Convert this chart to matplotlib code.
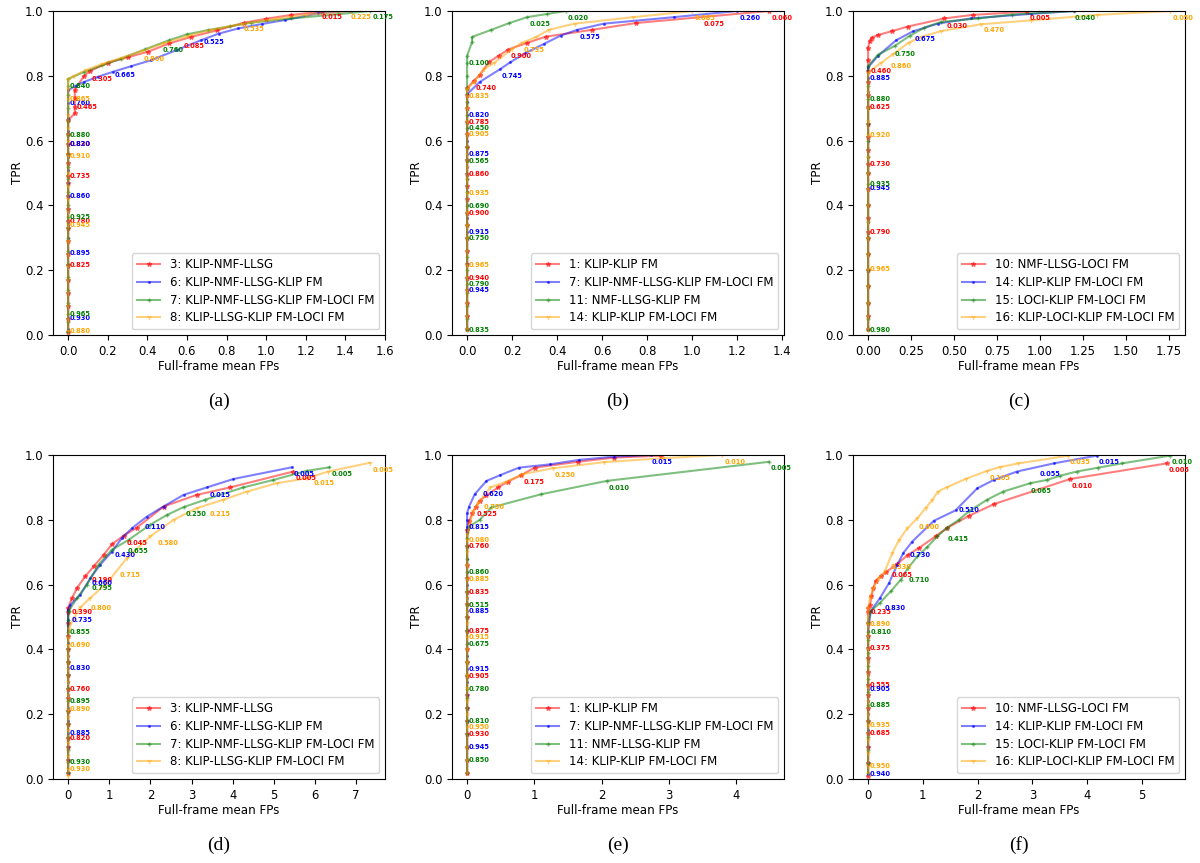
import matplotlib
matplotlib.use("Agg")
import matplotlib.pyplot as plt

# ---------------- data ----------------
# each series: vertical part (FP = 0) TPR values, then curve FP / TPR values, then threshold labels
# ---- panel (a)
a_names = ["3: KLIP-NMF-LLSG", "6: KLIP-NMF-LLSG-KLIP FM",
           "7: KLIP-NMF-LLSG-KLIP FM-LOCI FM", "8: KLIP-LLSG-KLIP FM-LOCI FM"]
a_red_v = [0.01, 0.05, 0.09, 0.13, 0.17, 0.215, 0.25, 0.29, 0.33, 0.353, 0.39, 0.43, 0.47, 0.49, 0.53, 0.56, 0.59, 0.62, 0.663]
a_red_fp = [0.034, 0.034, 0.034, 0.034, 0.081, 0.111, 0.2, 0.30, 0.402, 0.511, 0.621, 0.75, 0.89, 1.0, 1.128, 1.28]
a_red_tpr = [0.684, 0.704, 0.73, 0.757, 0.80, 0.815, 0.84, 0.857, 0.874, 0.9, 0.92, 0.94, 0.964, 0.976, 0.988, 0.998]
a_red_lab = [("0.015", 1.272, 0.98), ("0.085", 0.576, 0.892), ("0.305", 0.11, 0.79), ("0.465", 0.034, 0.704),
             ("0.830", 0, 0.59), ("0.735", 0, 0.49), ("0.780", 0, 0.353), ("0.825", 0, 0.215)]
a_blue_v = [0.02, 0.053, 0.09, 0.13, 0.17, 0.21, 0.253, 0.3, 0.34, 0.38, 0.428, 0.47, 0.51, 0.55, 0.59, 0.63, 0.67, 0.716, 0.755]
a_blue_fp = [0.04, 0.081, 0.15, 0.225, 0.32, 0.419, 0.55, 0.672, 0.76, 0.858, 0.98, 1.094, 1.263, 1.43]
a_blue_tpr = [0.77, 0.781, 0.797, 0.812, 0.83, 0.848, 0.88, 0.91, 0.93, 0.946, 0.96, 0.972, 0.993, 1.0]
a_blue_lab = [("0.525", 0.675, 0.905), ("0.665", 0.228, 0.803), ("0.760", 0, 0.716), ("0.820", 0, 0.59),
              ("0.860", 0, 0.428), ("0.895", 0, 0.253), ("0.930", 0, 0.053)]
a_green_v = [0.01, 0.04, 0.066, 0.1, 0.14, 0.18, 0.22, 0.26, 0.3, 0.33, 0.365, 0.4, 0.44, 0.48, 0.52, 0.56, 0.616, 0.66, 0.7, 0.74, 0.767, 0.79]
a_green_fp = [0.081, 0.17, 0.267, 0.39, 0.511, 0.6, 0.706, 0.82, 0.925, 1.128, 1.364, 1.524]
a_green_tpr = [0.812, 0.832, 0.853, 0.882, 0.91, 0.928, 0.941, 0.953, 0.964, 0.977, 0.99, 1.0]
a_green_lab = [("0.175", 1.533, 0.98), ("0.760", 0.469, 0.879), ("0.840", 0, 0.767), ("0.880", 0, 0.616),
               ("0.925", 0, 0.365), ("0.965", 0, 0.066)]
a_orange_v = [0.013, 0.05, 0.09, 0.13, 0.17, 0.21, 0.25, 0.29, 0.341, 0.38, 0.42, 0.46, 0.5, 0.553, 0.6, 0.64, 0.68, 0.729, 0.76, 0.79]
a_orange_fp = [0.03, 0.09, 0.17, 0.27, 0.372, 0.48, 0.6, 0.72, 0.88, 1.05, 1.2, 1.43]
a_orange_tpr = [0.80, 0.818, 0.836, 0.856, 0.876, 0.9, 0.922, 0.942, 0.96, 0.976, 0.988, 1.0]
a_orange_lab = [("0.225", 1.42, 0.98), ("0.535", 0.88, 0.943), ("0.800", 0.372, 0.853), ("0.865", 0, 0.729),
                ("0.910", 0, 0.553), ("0.945", 0, 0.341), ("0.880", 0, 0.013)]

# ---- panel (b)
b_names = ["1: KLIP-KLIP FM", "7: KLIP-NMF-LLSG-KLIP FM-LOCI FM",
           "11: NMF-LLSG-KLIP FM", "14: KLIP-KLIP FM-LOCI FM"]
b_red_v = [0.02, 0.06, 0.1, 0.14, 0.177, 0.22, 0.26, 0.3, 0.34, 0.378, 0.42, 0.46, 0.498, 0.54, 0.58, 0.62, 0.658, 0.7, 0.74, 0.761]
b_red_fp = [0.03, 0.056, 0.096, 0.14, 0.182, 0.267, 0.351, 0.556, 0.751, 1.34]
b_red_tpr = [0.785, 0.802, 0.842, 0.862, 0.881, 0.902, 0.921, 0.942, 0.963, 1.0]
b_red_lab = [("0.060", 1.345, 0.979), ("0.075", 1.044, 0.96), ("0.900", 0.185, 0.86), ("0.740", 0.03, 0.761),
             ("0.785", 0, 0.658), ("0.860", 0, 0.498), ("0.900", 0, 0.378), ("0.940", 0, 0.177)]
b_blue_v = [0.02, 0.06, 0.1, 0.138, 0.18, 0.22, 0.26, 0.3, 0.318, 0.36, 0.4, 0.44, 0.48, 0.52, 0.558, 0.6, 0.64, 0.679, 0.72, 0.743]
b_blue_fp = [0.056, 0.148, 0.192, 0.259, 0.34, 0.415, 0.489, 0.607, 0.918, 1.2]
b_blue_tpr = [0.781, 0.821, 0.842, 0.87, 0.898, 0.924, 0.942, 0.961, 0.981, 1.0]
b_blue_lab = [("0.260", 1.203, 0.979), ("0.575", 0.492, 0.919), ("0.745", 0.148, 0.798), ("0.820", 0, 0.679),
              ("0.875", 0, 0.558), ("0.915", 0, 0.318), ("0.945", 0, 0.138)]
b_green_v = [0.016, 0.05, 0.09, 0.13, 0.157, 0.2, 0.24, 0.298, 0.34, 0.398, 0.44, 0.48, 0.538, 0.58, 0.639, 0.68, 0.72, 0.76, 0.8, 0.839, 0.862]
b_green_fp = [0.022, 0.022, 0.104, 0.188, 0.267, 0.356, 0.437]
b_green_tpr = [0.904, 0.92, 0.941, 0.963, 0.981, 0.991, 1.0]
b_green_lab = [("0.020", 0.441, 0.979), ("0.025", 0.27, 0.96), ("0.100", 0, 0.839), ("0.450", 0, 0.639),
               ("0.565", 0, 0.538), ("0.690", 0, 0.398), ("0.750", 0, 0.298), ("0.790", 0, 0.157), ("0.835", 0, 0.016)]
b_orange_v = [0.02, 0.06, 0.1, 0.14, 0.18, 0.217, 0.26, 0.3, 0.34, 0.38, 0.438, 0.48, 0.52, 0.56, 0.619, 0.66, 0.7, 0.738, 0.76]
b_orange_fp = [0.03, 0.074, 0.118, 0.2, 0.244, 0.304, 0.363, 0.478, 0.738, 1.0]
b_orange_tpr = [0.781, 0.821, 0.839, 0.883, 0.902, 0.919, 0.942, 0.961, 0.981, 1.0]
b_orange_lab = [("0.885", 1.003, 0.979), ("0.735", 0.247, 0.88), ("0.835", 0, 0.738), ("0.905", 0, 0.619),
                ("0.935", 0, 0.438), ("0.965", 0, 0.217)]

# ---- panel (c)
c_names = ["10: NMF-LLSG-LOCI FM", "14: KLIP-KLIP FM-LOCI FM",
           "15: LOCI-KLIP FM-LOCI FM", "16: KLIP-LOCI-KLIP FM-LOCI FM"]
c_red_v = [0.02, 0.06, 0.1, 0.15, 0.2, 0.25, 0.3, 0.317, 0.36, 0.4, 0.45, 0.5, 0.529, 0.57, 0.61, 0.65, 0.704, 0.74, 0.78, 0.816, 0.85, 0.887]
c_red_fp = [0.01, 0.02, 0.058, 0.14, 0.231, 0.443, 0.608, 0.926]
c_red_tpr = [0.908, 0.918, 0.926, 0.938, 0.952, 0.977, 0.988, 0.998]
c_red_lab = [("0.005", 0.93, 0.979), ("0.030", 0.447, 0.954), ("0.460", 0.005, 0.816), ("0.625", 0, 0.704),
             ("0.730", 0, 0.529), ("0.790", 0, 0.317)]
c_blue_v = [0.02, 0.06, 0.1, 0.15, 0.2, 0.25, 0.3, 0.35, 0.4, 0.454, 0.5, 0.55, 0.6, 0.65, 0.7, 0.75, 0.792, 0.826]
c_blue_fp = [0.058, 0.164, 0.26, 0.405, 0.598, 0.945, 1.196]
c_blue_tpr = [0.862, 0.91, 0.937, 0.961, 0.977, 0.991, 1.0]
c_blue_lab = [("0.675", 0.264, 0.915), ("0.885", 0, 0.792), ("0.945", 0, 0.454)]
c_green_v = [0.016, 0.05, 0.1, 0.15, 0.2, 0.25, 0.3, 0.35, 0.4, 0.467, 0.5, 0.55, 0.6, 0.65, 0.7, 0.729, 0.77, 0.83]
c_green_fp = [0.058, 0.154, 0.241, 0.328, 0.424, 0.637, 0.839, 1.196]
c_green_tpr = [0.865, 0.892, 0.923, 0.949, 0.966, 0.977, 0.989, 1.0]
c_green_lab = [("0.040", 1.192, 0.979), ("0.750", 0.148, 0.867), ("0.880", 0, 0.729), ("0.935", 0, 0.467),
               ("0.980", 0, 0.016)]
c_orange_v = [0.02, 0.06, 0.1, 0.15, 0.204, 0.25, 0.3, 0.35, 0.4, 0.45, 0.5, 0.55, 0.616, 0.66, 0.7, 0.75, 0.81]
c_orange_fp = [0.077, 0.145, 0.235, 0.308, 0.424, 0.656, 0.945, 1.331, 1.755]
c_orange_tpr = [0.841, 0.867, 0.902, 0.92, 0.938, 0.959, 0.971, 0.988, 1.0]
c_orange_lab = [("0.050", 1.76, 0.979), ("0.470", 0.665, 0.942), ("0.860", 0.125, 0.829), ("0.920", 0, 0.616),
                ("0.965", 0, 0.204)]

# ---- panel (d)
d_names = a_names
d_red_v = [0.02, 0.06, 0.1, 0.128, 0.17, 0.21, 0.25, 0.278, 0.32, 0.36, 0.4, 0.44, 0.48, 0.516, 0.528]
d_red_fp = [0.097, 0.218, 0.42, 0.621, 0.864, 1.068, 1.35, 1.675, 2.32, 3.131, 3.939, 5.476]
d_red_tpr = [0.559, 0.59, 0.626, 0.656, 0.692, 0.725, 0.751, 0.776, 0.841, 0.877, 0.9, 0.949]
d_red_lab = [("0.005", 5.49, 0.928), ("0.045", 1.39, 0.728), ("0.190", 0.54, 0.615), ("0.390", 0.056, 0.516),
             ("0.760", 0, 0.278), ("0.820", 0, 0.128)]
d_blue_v = [0.02, 0.06, 0.1, 0.142, 0.18, 0.22, 0.26, 0.3, 0.342, 0.38, 0.42, 0.46, 0.491, 0.523]
d_blue_fp = [0.056, 0.3, 0.54, 0.784, 1.068, 1.31, 1.553, 1.917, 2.32, 2.806, 3.374, 4.02, 5.437]
d_blue_tpr = [0.538, 0.569, 0.62, 0.662, 0.702, 0.744, 0.774, 0.81, 0.841, 0.877, 0.9, 0.926, 0.962]
d_blue_lab = [("0.005", 5.437, 0.941), ("0.015", 3.4, 0.878), ("0.110", 1.82, 0.777), ("0.430", 1.09, 0.69),
              ("0.660", 0.54, 0.604), ("0.735", 0.056, 0.491), ("0.830", 0, 0.342), ("0.885", 0, 0.142)]
d_green_v = [0.02, 0.053, 0.09, 0.13, 0.17, 0.21, 0.241, 0.28, 0.32, 0.36, 0.4, 0.453, 0.492]
d_green_fp = [0.015, 0.218, 0.461, 0.743, 1.068, 1.471, 1.998, 2.403, 2.806, 3.333, 4.262, 4.99, 5.8, 6.35]
d_green_tpr = [0.518, 0.559, 0.6, 0.662, 0.708, 0.738, 0.785, 0.815, 0.839, 0.862, 0.9, 0.923, 0.951, 0.962]
d_green_lab = [("0.005", 6.367, 0.941), ("0.250", 2.823, 0.817), ("0.655", 1.415, 0.703), ("0.795", 0.54, 0.59),
               ("0.855", 0, 0.453), ("0.895", 0, 0.241), ("0.930", 0, 0.053)]
d_orange_v = [0.01, 0.03, 0.07, 0.11, 0.15, 0.19, 0.216, 0.26, 0.3, 0.34, 0.38, 0.415, 0.436]
d_orange_fp = [0.015, 0.136, 0.3, 0.54, 0.946, 1.432, 1.998, 2.563, 3.131, 3.777, 4.345, 5.073, 5.8, 6.325, 7.337]
d_orange_tpr = [0.462, 0.497, 0.53, 0.559, 0.605, 0.682, 0.749, 0.8, 0.836, 0.862, 0.887, 0.913, 0.928, 0.949, 0.976]
d_orange_lab = [("0.005", 7.36, 0.954), ("0.015", 5.946, 0.915), ("0.215", 3.4, 0.817), ("0.580", 2.143, 0.728),
                ("0.715", 1.23, 0.629), ("0.800", 0.517, 0.528), ("0.690", 0, 0.415), ("0.890", 0, 0.216),
                ("0.930", 0, 0.03)]

# ---- panel (e)
e_names = b_names
e_red_v = [0.02, 0.06, 0.1, 0.139, 0.18, 0.22, 0.26, 0.318, 0.36, 0.4, 0.458, 0.5, 0.54, 0.578, 0.62, 0.66, 0.718, 0.77]
e_red_fp = [0.03, 0.08, 0.129, 0.188, 0.288, 0.46, 0.608, 0.807, 1.004, 1.647, 2.191, 2.884]
e_red_tpr = [0.795, 0.821, 0.841, 0.859, 0.875, 0.9, 0.918, 0.938, 0.961, 0.979, 0.992, 0.998]
e_red_lab = [("0.175", 0.816, 0.918), ("0.525", 0.124, 0.817), ("0.760", 0, 0.718), ("0.835", 0, 0.578),
             ("0.875", 0, 0.458), ("0.905", 0, 0.318), ("0.930", 0, 0.139)]
e_blue_v = [0.02, 0.06, 0.099, 0.14, 0.18, 0.22, 0.26, 0.3, 0.338, 0.38, 0.42, 0.46, 0.519, 0.56, 0.6, 0.64, 0.68, 0.72, 0.759, 0.777]
e_blue_fp = [0.0, 0.0, 0.03, 0.114, 0.288, 0.495, 0.772, 1.227, 1.672, 2.191, 2.736]
e_blue_tpr = [0.8, 0.821, 0.841, 0.879, 0.92, 0.938, 0.961, 0.971, 0.985, 0.995, 1.0]
e_blue_lab = [("0.015", 2.726, 0.979), ("0.620", 0.213, 0.879), ("0.815", 0, 0.777), ("0.885", 0, 0.519),
              ("0.915", 0, 0.338), ("0.945", 0, 0.099)]
e_green_v = [0.02, 0.058, 0.1, 0.14, 0.179, 0.22, 0.25, 0.279, 0.32, 0.36, 0.418, 0.46, 0.5, 0.538, 0.58, 0.638, 0.68, 0.72, 0.745]
e_green_fp = [0.03, 0.188, 0.362, 1.104, 2.077, 4.491]
e_green_tpr = [0.779, 0.8, 0.838, 0.879, 0.92, 0.979]
e_green_lab = [("0.005", 4.5, 0.959), ("0.010", 2.092, 0.898), ("0.860", 0, 0.638), ("0.515", 0, 0.538),
               ("0.675", 0, 0.418), ("0.780", 0, 0.279), ("0.810", 0, 0.179), ("0.850", 0, 0.058)]
e_orange_v = [0.02, 0.06, 0.1, 0.159, 0.2, 0.24, 0.28, 0.32, 0.36, 0.4, 0.439, 0.48, 0.52, 0.56, 0.618, 0.66, 0.7, 0.738, 0.755]
e_orange_fp = [0.04, 0.09, 0.163, 0.347, 0.585, 0.831, 1.276, 2.043, 2.908, 3.798]
e_orange_tpr = [0.785, 0.826, 0.851, 0.9, 0.918, 0.941, 0.959, 0.978, 0.99, 1.0]
e_orange_lab = [("0.010", 3.809, 0.979), ("0.250", 1.286, 0.938), ("0.730", 0.223, 0.84), ("0.080", 0, 0.738),
                ("0.885", 0, 0.618), ("0.915", 0, 0.439), ("0.950", 0, 0.159)]

# ---- panel (f)
f_names = c_names
f_red_v = [0.01, 0.05, 0.1, 0.142, 0.18, 0.22, 0.26, 0.291, 0.33, 0.375, 0.403, 0.44, 0.48, 0.516, 0.528]
f_red_fp = [0.036, 0.062, 0.098, 0.14, 0.231, 0.322, 0.535, 0.729, 0.929, 1.233, 1.434, 1.84, 2.308, 3.692, 5.453]
f_red_tpr = [0.538, 0.564, 0.59, 0.612, 0.626, 0.638, 0.664, 0.692, 0.713, 0.749, 0.774, 0.812, 0.849, 0.926, 0.974]
f_red_lab = [("0.005", 5.464, 0.954), ("0.010", 3.692, 0.905), ("0.065", 0.413, 0.629), ("0.235", 0.025, 0.516),
             ("0.375", 0, 0.403), ("0.555", 0, 0.291), ("0.685", 0, 0.142)]
f_blue_v = [0.016, 0.05, 0.1, 0.15, 0.2, 0.24, 0.278, 0.32, 0.36, 0.4, 0.44, 0.456]
f_blue_fp = [0.049, 0.219, 0.383, 0.535, 0.645, 0.808, 1.202, 1.597, 1.993, 2.295, 2.721, 3.388, 4.178]
f_blue_tpr = [0.518, 0.559, 0.605, 0.662, 0.698, 0.733, 0.797, 0.829, 0.897, 0.923, 0.949, 0.974, 0.998]
f_blue_lab = [("0.015", 4.19, 0.977), ("0.055", 3.115, 0.941), ("0.510", 1.628, 0.829), ("0.730", 0.729, 0.69),
              ("0.830", 0.28, 0.528), ("0.905", 0, 0.278), ("0.940", 0, 0.016)]
f_green_v = [0.02, 0.05, 0.09, 0.13, 0.18, 0.229, 0.27, 0.31, 0.35, 0.39, 0.43, 0.453, 0.482]
f_green_fp = [0.049, 0.219, 0.413, 0.596, 0.729, 0.9, 1.082, 1.264, 1.446, 1.658, 1.84, 2.175, 2.466, 2.964,
              3.268, 3.51, 3.814, 4.208, 4.634, 5.514]
f_green_tpr = [0.518, 0.544, 0.579, 0.615, 0.651, 0.687, 0.716, 0.749, 0.776, 0.8, 0.826, 0.862, 0.887, 0.913,
               0.923, 0.936, 0.949, 0.961, 0.974, 0.998]
f_green_lab = [("0.010", 5.526, 0.977), ("0.065", 2.951, 0.89), ("0.415", 1.434, 0.741), ("0.710", 0.718, 0.615),
               ("0.810", 0.025, 0.453), ("0.885", 0, 0.229)]
f_orange_v = [0.02, 0.041, 0.08, 0.12, 0.166, 0.2, 0.24, 0.28, 0.32, 0.36, 0.4, 0.44, 0.478, 0.528]
f_orange_fp = [0.036, 0.098, 0.2, 0.304, 0.444, 0.565, 0.718, 0.9, 1.051, 1.173, 1.275, 1.434, 1.78, 2.175,
               2.417, 2.74, 3.661]
f_orange_tpr = [0.559, 0.59, 0.621, 0.641, 0.698, 0.738, 0.774, 0.805, 0.836, 0.862, 0.887, 0.9, 0.926, 0.951,
                0.963, 0.974, 0.998]
f_orange_lab = [("0.035", 3.661, 0.977), ("0.105", 2.186, 0.928), ("0.600", 0.9, 0.777), ("0.330", 0.395, 0.653),
                ("0.890", 0, 0.478), ("0.935", 0, 0.166), ("0.950", 0, 0.041)]

captions = ["(a)", "(b)", "(c)", "(d)", "(e)", "(f)"]

# ---------------- styling ----------------
colors = ["red", "blue", "green", "orange"]
markers = ["*", ".", "+", "1"]
msizes = [3.5, 2.5, 3.5, 3.5]

panels = [
    (a_names, [(a_red_v, a_red_fp, a_red_tpr, a_red_lab), (a_blue_v, a_blue_fp, a_blue_tpr, a_blue_lab),
               (a_green_v, a_green_fp, a_green_tpr, a_green_lab), (a_orange_v, a_orange_fp, a_orange_tpr, a_orange_lab)]),
    (b_names, [(b_red_v, b_red_fp, b_red_tpr, b_red_lab), (b_blue_v, b_blue_fp, b_blue_tpr, b_blue_lab),
               (b_green_v, b_green_fp, b_green_tpr, b_green_lab), (b_orange_v, b_orange_fp, b_orange_tpr, b_orange_lab)]),
    (c_names, [(c_red_v, c_red_fp, c_red_tpr, c_red_lab), (c_blue_v, c_blue_fp, c_blue_tpr, c_blue_lab),
               (c_green_v, c_green_fp, c_green_tpr, c_green_lab), (c_orange_v, c_orange_fp, c_orange_tpr, c_orange_lab)]),
    (d_names, [(d_red_v, d_red_fp, d_red_tpr, d_red_lab), (d_blue_v, d_blue_fp, d_blue_tpr, d_blue_lab),
               (d_green_v, d_green_fp, d_green_tpr, d_green_lab), (d_orange_v, d_orange_fp, d_orange_tpr, d_orange_lab)]),
    (e_names, [(e_red_v, e_red_fp, e_red_tpr, e_red_lab), (e_blue_v, e_blue_fp, e_blue_tpr, e_blue_lab),
               (e_green_v, e_green_fp, e_green_tpr, e_green_lab), (e_orange_v, e_orange_fp, e_orange_tpr, e_orange_lab)]),
    (f_names, [(f_red_v, f_red_fp, f_red_tpr, f_red_lab), (f_blue_v, f_blue_fp, f_blue_tpr, f_blue_lab),
               (f_green_v, f_green_fp, f_green_tpr, f_green_lab), (f_orange_v, f_orange_fp, f_orange_tpr, f_orange_lab)]),
]

W, H = 1200, 863
fig = plt.figure(figsize=(W / 100, H / 100), dpi=100)
lefts = [53, 452, 853]
tops = [11, 455]
aw, ah = 332, 324

for i, (names, series) in enumerate(panels):
    row, col = divmod(i, 3)
    l, t = lefts[col], tops[row]
    ax = fig.add_axes([l / W, 1 - (t + ah) / H, aw / W, ah / H])
    for k, (v, fp, tpr, labs) in enumerate(series):
        xs = [0.0] * len(v) + list(fp)
        ys = list(v) + list(tpr)
        ax.plot(xs, ys, color=colors[k], marker=markers[k], markersize=msizes[k],
                linewidth=1.5, alpha=0.5, label=names[k])
    for k, (v, fp, tpr, labs) in enumerate(series):
        for txt, x, y in labs:
            ax.annotate(txt, (x, y), xytext=(1, 0), textcoords="offset points",
                        ha="left", va="center", fontsize=4.8, fontweight="bold",
                        color=colors[k])
    ax.set_ylim(0, 1)
    ax.tick_params(labelsize=8.4)
    ax.set_xlabel("Full-frame mean FPs", fontsize=8.6, labelpad=1.5)
    ax.set_ylabel("TPR", fontsize=8.6, labelpad=0.5)
    ax.legend(loc="lower right", fontsize=8.5, labelspacing=0.4)
    fig.text((l + aw / 2) / W, 1 - (t + ah + 66) / H, captions[i], ha="center", va="center",
             fontsize=14, family="Liberation Serif")

fig.savefig("out.png", dpi=100)
